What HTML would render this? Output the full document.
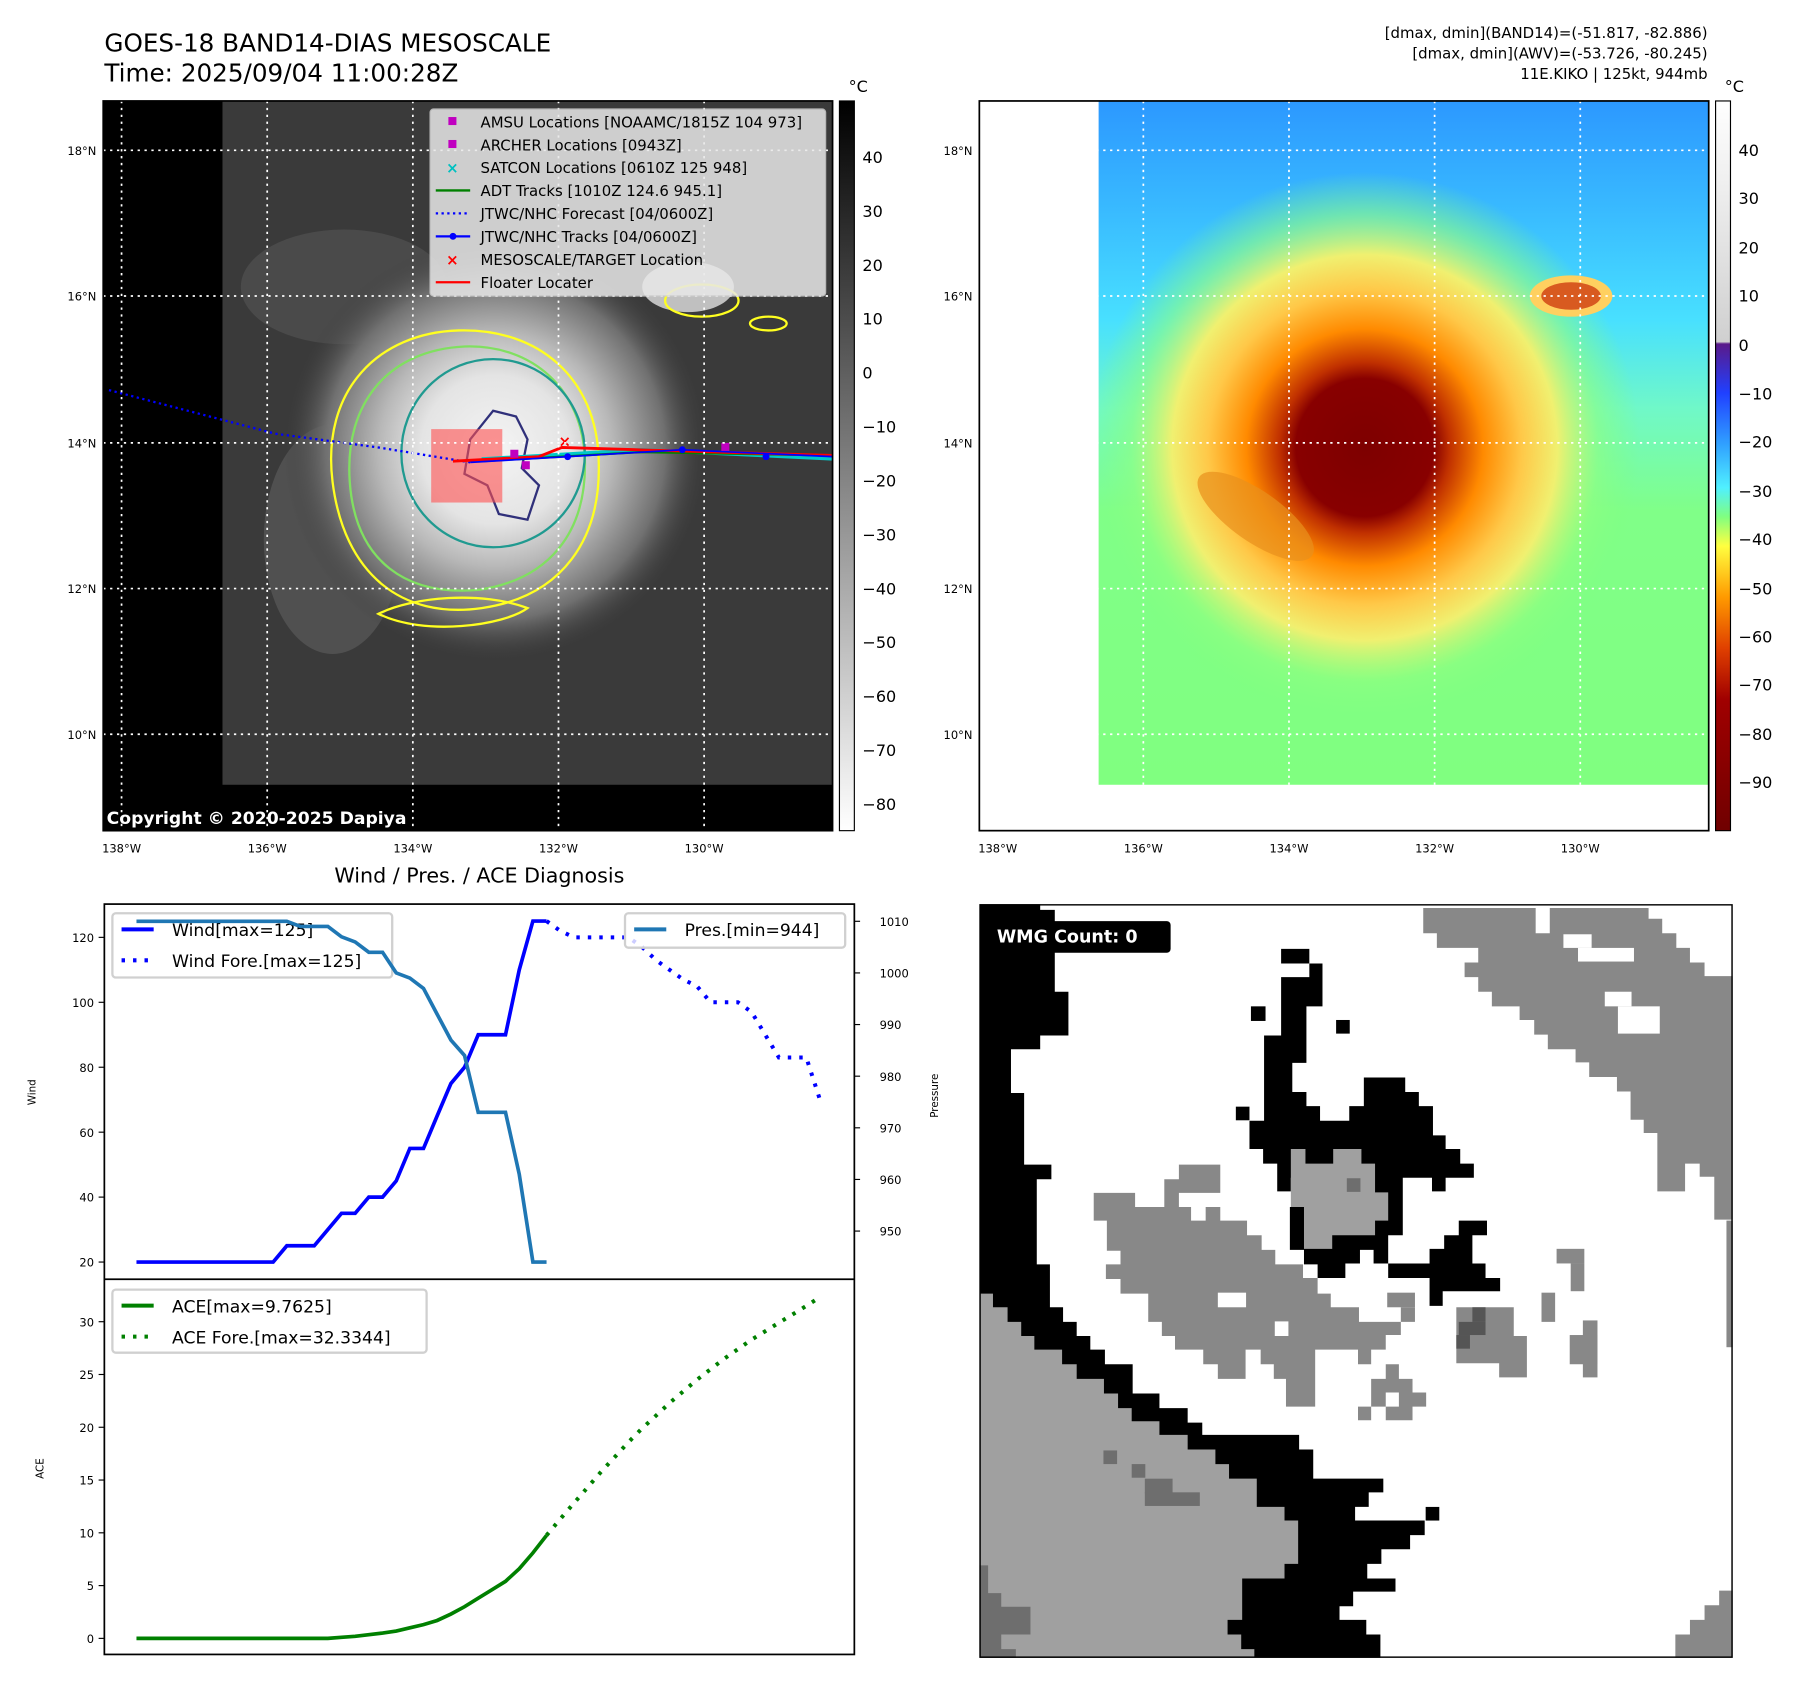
<!DOCTYPE html>
<html><head><meta charset="utf-8"><style>
html,body{margin:0;padding:0;background:#fff;}
svg{display:block;font-family:"DejaVu Sans","Liberation Sans",sans-serif;}
</style></head><body>
<svg id="fig" width="1797" height="1690" viewBox="0 0 1567 1473" preserveAspectRatio="none" xmlns="http://www.w3.org/2000/svg">
<defs>
<radialGradient id="cloud" cx="432" cy="392" r="185" gradientUnits="userSpaceOnUse">
<stop offset="0" stop-color="#f4f4f4"/><stop offset="0.35" stop-color="#e4e4e4"/><stop offset="0.55" stop-color="#b8b8b8"/><stop offset="0.8" stop-color="#707070"/><stop offset="1" stop-color="#3c3c3c" stop-opacity="0"/>
</radialGradient>
<linearGradient id="bgR" x1="0" y1="88" x2="0" y2="684" gradientUnits="userSpaceOnUse">
<stop offset="0" stop-color="#2c98ff"/><stop offset="0.15" stop-color="#38b8ff"/><stop offset="0.32" stop-color="#48e0ff"/><stop offset="0.45" stop-color="#70f8c8"/><stop offset="0.6" stop-color="#80ff88"/><stop offset="1" stop-color="#80ff80"/>
</linearGradient>
<radialGradient id="storm" cx="1190" cy="390" r="240" gradientUnits="userSpaceOnUse">
<stop offset="0" stop-color="#7e0000"/><stop offset="0.25" stop-color="#880000"/><stop offset="0.31" stop-color="#c03000"/><stop offset="0.43" stop-color="#ff8a00"/><stop offset="0.57" stop-color="#ffc848"/><stop offset="0.7" stop-color="#f0f070"/><stop offset="0.85" stop-color="#90ff80" stop-opacity="0.6"/><stop offset="1" stop-color="#80ff80" stop-opacity="0"/>
</radialGradient>
<linearGradient id="cbL" x1="0" y1="0" x2="0" y2="1"><stop offset="0" stop-color="#000"/><stop offset="1" stop-color="#fff"/></linearGradient>
<linearGradient id="cbR" x1="0" y1="0" x2="0" y2="1">
<stop offset="0" stop-color="#ffffff"/><stop offset="0.33" stop-color="#d0d0d0"/><stop offset="0.333" stop-color="#5a1a8a"/><stop offset="0.4" stop-color="#2040ff"/><stop offset="0.47" stop-color="#30a0ff"/><stop offset="0.53" stop-color="#50f0ff"/><stop offset="0.57" stop-color="#80ff80"/><stop offset="0.61" stop-color="#ffff40"/><stop offset="0.68" stop-color="#ff9a00"/><stop offset="0.75" stop-color="#e04000"/><stop offset="0.82" stop-color="#a00000"/><stop offset="1" stop-color="#700000"/>
</linearGradient>
<clipPath id="clipL"><rect x="90" y="88" width="636" height="636"/></clipPath>
<clipPath id="clipR"><rect x="854" y="88" width="636" height="636"/></clipPath>
</defs>

<!-- Titles -->
<text x="91" y="45" font-size="21.5">GOES-18 BAND14-DIAS MESOSCALE</text>
<text x="91" y="71" font-size="21.5">Time: 2025/09/04 11:00:28Z</text>
<g font-size="13" text-anchor="end">
<text x="1489" y="33">[dmax, dmin](BAND14)=(-51.817, -82.886)</text>
<text x="1489" y="51">[dmax, dmin](AWV)=(-53.726, -80.245)</text>
<text x="1489" y="69">11E.KIKO | 125kt, 944mb</text>
</g>

<!-- Left map -->
<g clip-path="url(#clipL)">
<rect x="90" y="88" width="636" height="636" fill="#000"/>
<rect x="194" y="88" width="532" height="596" fill="#3a3a3a"/>
<ellipse cx="300" cy="250" rx="90" ry="50" fill="#4a4a4a"/>
<ellipse cx="290" cy="470" rx="60" ry="100" fill="#505050"/>
<ellipse cx="600" cy="250" rx="40" ry="22" fill="#c0c0c0"/>
<rect x="194" y="88" width="532" height="596" fill="url(#cloud)"/>
<g fill="none" stroke-width="2">
<path d="M290 420 C280 340 330 290 400 288 C470 286 520 330 522 400 C525 470 490 520 420 530 C350 540 300 500 290 420Z" stroke="#ffff20"/>
<path d="M305 420 C300 350 340 305 405 302 C465 300 508 340 510 400 C512 465 478 505 418 514 C355 520 310 490 305 420Z" stroke="#80e060"/>
<ellipse cx="430" cy="395" rx="80" ry="82" stroke="#209a90"/>
<path d="M430 358 l20 5 l10 20 l-5 25 l15 15 l-10 30 l-25 -5 l-10 -25 l-20 -10 l5 -30z" stroke="#30307a"/>
<path d="M330 535 C360 520 420 515 460 530 C440 545 370 555 330 535Z" stroke="#ffff20"/>
<ellipse cx="612" cy="262" rx="32" ry="14" stroke="#ffff20"/>
<ellipse cx="670" cy="282" rx="16" ry="6" stroke="#ffff20"/>
</g>
<rect x="376" y="374" width="62" height="64" fill="#ff5050" opacity="0.6"/>
<polyline points="95,340 240,378 330,390 410,403" fill="none" stroke="#0000ff" stroke-width="2" stroke-dasharray="2,3"/>
<polyline points="420,400 560,392 726,400" fill="none" stroke="#00c8c8" stroke-width="3"/>
<polyline points="420,402 560,394 726,397" fill="none" stroke="#008000" stroke-width="2"/>
<polyline points="395,402 470,398 490,390 726,397" fill="none" stroke="#ff0000" stroke-width="2.5"/>
<polyline points="410,403 495,398 595,392 726,398" fill="none" stroke="#0000ff" stroke-width="1.5"/>
<g fill="#0000ff"><circle cx="495" cy="398" r="3"/><circle cx="595" cy="392" r="3"/><circle cx="668" cy="398" r="3"/></g>
<g fill="#c000c0"><rect x="455" y="402" width="7" height="7"/><rect x="629" y="386" width="7" height="7"/><rect x="445" y="392" width="7" height="7"/></g>
<text x="487" y="389" fill="#ff0000" font-size="13" font-weight="bold">×</text>
<g stroke="#fff" stroke-width="1.5" stroke-dasharray="2,4">
<line x1="106" y1="88" x2="106" y2="724"/><line x1="233" y1="88" x2="233" y2="724"/><line x1="360" y1="88" x2="360" y2="724"/><line x1="487" y1="88" x2="487" y2="724"/><line x1="614" y1="88" x2="614" y2="724"/>
<line x1="90" y1="131" x2="726" y2="131"/><line x1="90" y1="258" x2="726" y2="258"/><line x1="90" y1="386" x2="726" y2="386"/><line x1="90" y1="513" x2="726" y2="513"/><line x1="90" y1="640" x2="726" y2="640"/>
</g>
<text x="93" y="718" fill="#fff" font-size="15" font-weight="bold">Copyright © 2020-2025 Dapiya</text>
</g>
<rect x="90" y="88" width="636" height="636" fill="none" stroke="#000" stroke-width="1.5"/>
<g>
<rect x="375" y="95" width="345" height="163" rx="3" fill="#e8e8e8" opacity="0.85" stroke="#ccc"/>
<g font-size="13">
<rect x="391" y="102" width="7" height="7" fill="#c000c0"/><text x="419" y="111">AMSU Locations [NOAAMC/1815Z 104 973]</text>
<rect x="391" y="122" width="7" height="7" fill="#c000c0"/><text x="419" y="131">ARCHER Locations [0943Z]</text>
<text x="389" y="151" fill="#00c0c0" font-weight="bold">×</text><text x="419" y="151">SATCON Locations [0610Z 125 948]</text>
<line x1="380" y1="166" x2="410" y2="166" stroke="#008000" stroke-width="2"/><text x="419" y="171">ADT Tracks [1010Z 124.6 945.1]</text>
<line x1="380" y1="186" x2="410" y2="186" stroke="#0000ff" stroke-width="2" stroke-dasharray="2,3"/><text x="419" y="191">JTWC/NHC Forecast [04/0600Z]</text>
<line x1="380" y1="206" x2="410" y2="206" stroke="#0000ff" stroke-width="2"/><circle cx="395" cy="206" r="3" fill="#0000ff"/><text x="419" y="211">JTWC/NHC Tracks [04/0600Z]</text>
<text x="389" y="231" fill="#ff0000" font-weight="bold">×</text><text x="419" y="231">MESOSCALE/TARGET Location</text>
<line x1="380" y1="246" x2="410" y2="246" stroke="#ff0000" stroke-width="2"/><text x="419" y="251">Floater Locater</text>
</g></g>

<!-- Left colorbar -->
<g font-size="14">
<rect x="732" y="88" width="13" height="636" fill="url(#cbL)" stroke="#000" stroke-width="1"/>
<text x="740" y="80">°C</text>
<text x="752" y="142">40</text><text x="752" y="189">30</text><text x="752" y="236">20</text><text x="752" y="283">10</text><text x="752" y="330">0</text>
<text x="752" y="377">−10</text><text x="752" y="424">−20</text><text x="752" y="471">−30</text><text x="752" y="518">−40</text><text x="752" y="565">−50</text><text x="752" y="612">−60</text><text x="752" y="659">−70</text><text x="752" y="706">−80</text>
</g>
<g font-size="10" text-anchor="end">
<text x="84" y="135">18°N</text><text x="84" y="262">16°N</text><text x="84" y="390">14°N</text><text x="84" y="517">12°N</text><text x="84" y="644">10°N</text>
</g>
<g font-size="10" text-anchor="middle">
<text x="106" y="743">138°W</text><text x="233" y="743">136°W</text><text x="360" y="743">134°W</text><text x="487" y="743">132°W</text><text x="614" y="743">130°W</text>
</g>

<!-- Right map -->
<g clip-path="url(#clipR)">
<rect x="854" y="88" width="636" height="636" fill="#fff"/>
<rect x="958" y="88" width="532" height="596" fill="url(#bgR)"/>
<rect x="958" y="88" width="532" height="596" fill="url(#storm)"/>
<ellipse cx="1095" cy="450" rx="60" ry="22" transform="rotate(35 1095 450)" fill="#e8901c" opacity="0.7"/>
<ellipse cx="1370" cy="258" rx="36" ry="18" fill="#ffd060"/>
<ellipse cx="1370" cy="258" rx="26" ry="12" fill="#d85a20"/>
<g stroke="#fff" stroke-width="1.5" stroke-dasharray="2,4">
<line x1="870" y1="88" x2="870" y2="724"/><line x1="997" y1="88" x2="997" y2="724"/><line x1="1124" y1="88" x2="1124" y2="724"/><line x1="1251" y1="88" x2="1251" y2="724"/><line x1="1378" y1="88" x2="1378" y2="724"/>
<line x1="854" y1="131" x2="1490" y2="131"/><line x1="854" y1="258" x2="1490" y2="258"/><line x1="854" y1="386" x2="1490" y2="386"/><line x1="854" y1="513" x2="1490" y2="513"/><line x1="854" y1="640" x2="1490" y2="640"/>
</g>
</g>
<rect x="854" y="88" width="636" height="636" fill="none" stroke="#000" stroke-width="1.5"/>
<g font-size="14">
<rect x="1496" y="88" width="13" height="636" fill="url(#cbR)" stroke="#000" stroke-width="1"/>
<text x="1504" y="80">°C</text>
<text x="1516" y="136">40</text><text x="1516" y="178">30</text><text x="1516" y="221">20</text><text x="1516" y="263">10</text><text x="1516" y="306">0</text>
<text x="1516" y="348">−10</text><text x="1516" y="390">−20</text><text x="1516" y="433">−30</text><text x="1516" y="475">−40</text><text x="1516" y="518">−50</text><text x="1516" y="560">−60</text><text x="1516" y="602">−70</text><text x="1516" y="645">−80</text><text x="1516" y="687">−90</text>
</g>
<g font-size="10" text-anchor="end">
<text x="848" y="135">18°N</text><text x="848" y="262">16°N</text><text x="848" y="390">14°N</text><text x="848" y="517">12°N</text><text x="848" y="644">10°N</text>
</g>
<g font-size="10" text-anchor="middle">
<text x="870" y="743">138°W</text><text x="997" y="743">136°W</text><text x="1124" y="743">134°W</text><text x="1251" y="743">132°W</text><text x="1378" y="743">130°W</text>
</g>

<!-- Diagnosis chart -->
<text x="418" y="769" font-size="18" text-anchor="middle">Wind / Pres. / ACE Diagnosis</text>
<g id="chart"></g>

<!-- WMG panel -->
<svg x="854" y="788" width="657" height="657" viewBox="0 0 1548 1548">
<rect width="1548" height="1548" fill="#fff"/>
<path fill="#000" d="M0 0H125V12H155V180H183V270H125V298H65V388H92V535H148V565H118V740H145V828H172V858H200V887H228V915H258V945H315V1005H370V1035H428V1065H458V1090H657V1120H686V1180H830V1208H800V1238H772V1266H915V1296H885V1325H826V1355H797V1385H855V1412H768V1442H740V1470H795V1500H824V1548H0Z"/>
<path fill="#a0a0a0" d="M0 800H28V828H58V858H86V887H113V915H170V945H200V975H256V1005H285V1035H313V1062H370V1090H428V1120H485V1150H513V1180H570V1238H627V1266H655V1355H627V1385H540V1470H510V1500H538V1530H565V1548H0Z"/>
<g fill="#6e6e6e"><path d="M0 1358H18V1415H45V1443H105V1500H45V1530H75V1548H0Z"/><rect x="340" y="1180" width="57" height="30"/><rect x="340" y="1208" width="113" height="28"/><rect x="255" y="1122" width="28" height="28"/><rect x="313" y="1150" width="28" height="28"/></g>
<path fill="#888" d="M912 8H1143V60H1172V8H1375V30H1403V60H1432V90H1460V120H1490V148H1548V648H1510V560H1480V533H1450V590H1393V470H1365V443H1338V385H1310V355H1253V325H1225V298H1168V268H1140V238H1110V210H1053V180H1025V150H997V120H1025V90H940V60H912Z"/>
<g fill="#fff"><rect x="1200" y="62" width="58" height="28"/><rect x="1230" y="90" width="115" height="28"/><rect x="1285" y="180" width="55" height="30"/><rect x="1312" y="210" width="86" height="56"/><rect x="1490" y="8" width="30" height="52"/></g>
<g fill="#888"><rect x="1535" y="650" width="13" height="260"/><path d="M1430 1548V1500H1460V1470H1490V1440H1520V1410H1548V1548Z"/></g>
<path fill="#000" d="M555 445H585V270H620V150H678V122H620V92H678V122H705V210H672V326H643V386H672V415H700V445H760V415H790V356H875V386H903V415H932V475H958V503H988V533H1016V562H958V590H930V562H870V680H840V738H925V708H955V680H985V650H1043V680H1013V738H1040V768H1070V795H952V825H925V768H840V738H810V710H782V738H752V768H695V740H667V710H638V622H667V562H640V590H612V533H583V503H555Z"/>
<g fill="#000"><rect x="558" y="210" width="30" height="30"/><rect x="733" y="238" width="28" height="28"/><rect x="527" y="416" width="28" height="28"/><rect x="917" y="1238" width="28" height="28"/></g>
<path fill="#a0a0a0" d="M640 503H670V533H727V503H785V533H813V592H840V650H813V680H725V708H667V622H640Z"/>
<rect x="755" y="563" width="28" height="28" fill="#6e6e6e"/>
<path fill="#888" d="M235 593H320V622H380V565H410V535H495V593H410V622H435V650H465V622H495V650H550V680H580V710H608V740H665V768H695V800H722V828H780V858H866V885H835V915H805V945H778V915H690V1032H630V975H605V945H578V915H547V975H490V945H460V915H402V887H375V858H347V800H290V770H260V740H290V712H262V650H235Z"/>
<g fill="#fff"><rect x="490" y="798" width="58" height="30"/><rect x="607" y="857" width="28" height="30"/></g>
<g fill="#888"><rect x="838" y="798" width="57" height="30"/><rect x="866" y="828" width="29" height="30"/><path d="M980 828H1098V887H1125V972H1068V943H980Z"/><rect x="1155" y="798" width="28" height="60"/><rect x="1186" y="708" width="57" height="30"/><rect x="1215" y="738" width="28" height="57"/><rect x="1213" y="885" width="57" height="60"/><rect x="1240" y="855" width="30" height="117"/><path d="M835 945H862V975H890V1003H918V1032H890V1060H835V1032H862V1003H835V1032H805V1060H778V1032H805V975H835Z"/></g>
<g fill="#555"><rect x="985" y="858" width="55" height="27"/><rect x="980" y="885" width="28" height="28"/><rect x="1013" y="828" width="27" height="30"/></g>
<rect x="2" y="35" width="391" height="65" rx="8" fill="#000"/>
<text x="36" y="79" fill="#fff" font-size="36" font-weight="bold">WMG Count: 0</text>
<rect x="1" y="1" width="1546" height="1546" fill="none" stroke="#000" stroke-width="4"/>
</svg>
</svg>
<script>
const windObs=[20,20,20,20,20,20,20,20,20,20,20,25,25,25,30,35,35,40,40,45,55,55,65,75,80,90,90,90,110,125,125];
const windFore=[125,122,120,120,120,120,120,117,113,110,107,105,100,100,100,97,90,83,83,83,70];
const presObs=[1010,1010,1010,1010,1010,1010,1010,1010,1010,1010,1010,1010,1009,1009,1009,1007,1006,1004,1004,1000,999,997,992,987,984,973,973,973,961,944,944];
const aceObs=[0,0,0,0,0,0,0,0,0,0,0,0,0,0,0,0.1,0.2,0.35,0.5,0.7,1.0,1.3,1.7,2.3,3.0,3.8,4.6,5.4,6.6,8.1,9.76];
const aceFore=[9.76,11.3,12.8,14.3,15.8,17.2,18.6,19.9,21.1,22.3,23.4,24.5,25.5,26.5,27.4,28.3,29.1,29.9,30.7,31.5,32.33];
const windTicks=[20,40,60,80,100,120];
const presTicks=[950,960,970,980,990,1000,1010];
const aceTicks=[0,5,10,15,20,25,30];
const foreStart=30;

const NS='http://www.w3.org/2000/svg';
const g=document.getElementById('chart');
const X=i=>119+i*11.92;
const YW=v=>1100-(v-20)*2.83;
const YP=p=>803+(1010-p)*4.5;
const YA=v=>1428-v*9.2;
function el(tag,attrs,parent){const e=document.createElementNS(NS,tag);for(const k in attrs)e.setAttribute(k,attrs[k]);(parent||g).appendChild(e);return e;}
function line(vals,off,yf,color,w,dash,name){
  const pts=vals.map((v,i)=>X(i+off).toFixed(1)+','+yf(v).toFixed(1)).join(' ');
  const p=el('polyline',{points:pts,fill:'none',stroke:color,'stroke-width':w});
  if(dash)p.setAttribute('stroke-dasharray',dash);
  
  
}
function txt(x,y,s,fs,anchor,name,rot){const t=el('text',{x:x,y:y,'font-size':fs,'text-anchor':anchor||'start'});t.textContent=s;if(rot)t.setAttribute('transform',rot);
  
  
  return t;}
function legend(x,y,w,h,items,name){
  const r=el('rect',{x:x,y:y,width:w,height:h,rx:3,fill:'#fff','fill-opacity':0.8,stroke:'#d0d0d0','stroke-width':2});
  
  
  items.forEach((it,k)=>{const yy=y+14+k*27;el('line',{x1:x+8,y1:yy,x2:x+36,y2:yy,stroke:it[1],'stroke-width':3.5,'stroke-dasharray':it[2]||'none'});txt(x+52,yy+6,it[0],15,'start','legend-entry');});
}
el('rect',{x:91,y:788,width:654,height:654,fill:'#fff',stroke:'#000','stroke-width':1.5});
el('line',{x1:91,y1:1115,x2:745,y2:1115,stroke:'#000','stroke-width':1.5});
windTicks.forEach(v=>{el('line',{x1:86,y1:YW(v),x2:91,y2:YW(v),stroke:'#000'});txt(82,YW(v)+4,String(v),10,'end','wind-tick');});
presTicks.forEach(v=>{el('line',{x1:745,y1:YP(v),x2:750,y2:YP(v),stroke:'#000'});txt(767,YP(v)+4,String(v),10,'start','pressure-tick');});
aceTicks.forEach(v=>{el('line',{x1:86,y1:YA(v),x2:91,y2:YA(v),stroke:'#000'});txt(82,YA(v)+4,String(v),10,'end','ace-tick');});
txt(31,952,'Wind',9,'middle','wind-axis-title','rotate(-90 31 952)');
txt(818,955,'Pressure',9,'middle','pressure-axis-title','rotate(-90 818 955)');
txt(38,1280,'ACE',9,'middle','ace-axis-title','rotate(-90 38 1280)');
line(windObs,0,YW,'#0000ff',3.2,null,'wind-line');
line(windFore,foreStart,YW,'#0000ff',3.5,'3,7','wind-forecast-line');
legend(98,796,244,56,[['Wind[max=125]','#0000ff'],['Wind Fore.[max=125]','#0000ff','3,7']],'wind-legend');
line(presObs,0,YP,'#1f77b4',3.2,null,'pressure-line');
legend(545,796,192,30,[['Pres.[min=944]','#1f77b4']],'pressure-legend');
line(aceObs,0,YA,'#008000',3.2,null,'ace-line');
line(aceFore,foreStart,YA,'#008000',3.5,'3,7','ace-forecast-line');
legend(98,1124,274,55,[['ACE[max=9.7625]','#008000'],['ACE Fore.[max=32.3344]','#008000','3,7']],'ace-legend');
</script>
</body></html>
